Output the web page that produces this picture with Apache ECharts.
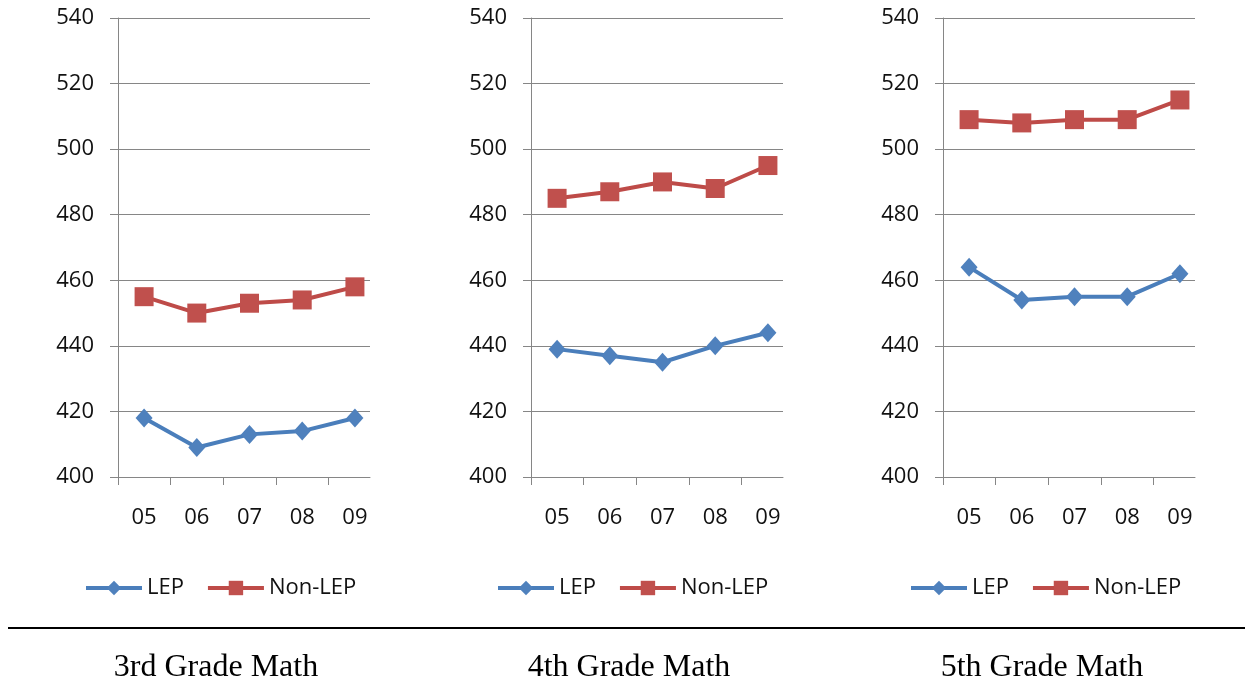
<!DOCTYPE html>
<html>
<head>
<meta charset="utf-8">
<script src="https://cdn.jsdelivr.net/npm/echarts@6/dist/echarts.min.js"></script>
<style>
html,body{margin:0;padding:0;background:#fff;}
#chart{width:1245px;height:684px;}
</style>
</head>
<body>
<div id="chart"></div>
<script>
const categories = ['05','06','07','08','09'];
const seriesNames = ['LEP','Non-LEP'];
const lep3 = [418,409,413,414,418];
const non3 = [455,450,453,454,458];
const lep4 = [439,437,435,440,444];
const non4 = [485,487,490,488,495];
const lep5 = [464,454,455,455,462];
const non5 = [509,508,509,509,515];
const panelTitles = ['3rd Grade Math','4th Grade Math','5th Grade Math'];
const yMin = 400, yMax = 540, yStep = 20;

const panels = [[lep3,non3],[lep4,non4],[lep5,non5]];
const gridLefts = [118,531,943];
const legendLefts = [84,496,909];
const titleCenters = [216,629,1042];
const blue = '#4A7EBB', blueM = '#4F81BD';
const red = '#BE4B48', redM = '#C0504D';
const gray = '#868686';
const textColor = '#111';
const font = '"Open Sans", sans-serif';
const xMin = -0.495, xMax = 4.286;

const grid = [], xAxis = [], yAxis = [], series = [], legend = [], graphic = [];
panels.forEach((p, k) => {
  grid.push({left: gridLefts[k], top: 18, width: 252, height: 459});
  xAxis.push({
    type: 'value', gridIndex: k, min: xMin, max: xMax,
    axisLine: {show: true, onZero: false, lineStyle: {color: gray, width: 1}},
    axisTick: {show: true, length: 8, lineStyle: {color: gray}, customValues: [xMin, 0.5, 1.5, 2.5, 3.5]},
    axisLabel: {customValues: [0,1,2,3,4], formatter: v => categories[Math.round(v)], margin: 30,
      color: textColor, fontSize: 22, fontFamily: font},
    splitLine: {show: false}
  });
  yAxis.push({
    type: 'value', gridIndex: k, min: yMin, max: yMax, interval: yStep,
    axisLine: {show: true, onZero: false, lineStyle: {color: gray, width: 1}},
    axisTick: {show: true, length: 8, lineStyle: {color: gray}},
    axisLabel: {margin: 24, color: textColor, fontSize: 22, fontFamily: font},
    splitLine: {show: true, lineStyle: {color: gray, width: 1}}
  });
  series.push({
    name: seriesNames[0], type: 'line', xAxisIndex: k, yAxisIndex: k,
    data: p[0].map((v,i) => [i,v]),
    symbol: 'diamond', symbolSize: [17,19],
    lineStyle: {color: blue, width: 4},
    itemStyle: {color: blueM},
    emphasis: {disabled: true}, silent: true
  });
  series.push({
    name: seriesNames[1], type: 'line', xAxisIndex: k, yAxisIndex: k,
    data: p[1].map((v,i) => [i,v]),
    symbol: 'rect', symbolSize: 19,
    lineStyle: {color: red, width: 4},
    itemStyle: {color: redM},
    emphasis: {disabled: true}, silent: true
  });
  legend.push({
    left: legendLefts[k], top: 577, orient: 'horizontal', padding: 0,
    data: seriesNames,
    itemWidth: 56, itemHeight: 18, itemGap: 22,
    lineStyle: {width: 4},
    textStyle: {fontSize: 22, fontFamily: font, color: textColor},
    selectedMode: false
  });
  graphic.push({
    type: 'text', x: titleCenters[k], y: 668,
    style: {text: panelTitles[k], fill: '#000', font: '32px "Liberation Serif", "Times New Roman", serif',
      textAlign: 'center', textVerticalAlign: 'middle'}
  });
});
graphic.push({
  type: 'line', shape: {x1: 8, y1: 628, x2: 1245, y2: 628},
  style: {stroke: '#000', lineWidth: 2}
});

const chart = echarts.init(document.getElementById('chart'));
chart.setOption({
  animation: false,
  backgroundColor: '#fff',
  grid, xAxis, yAxis, series, legend, graphic
});
</script>
</body>
</html>
